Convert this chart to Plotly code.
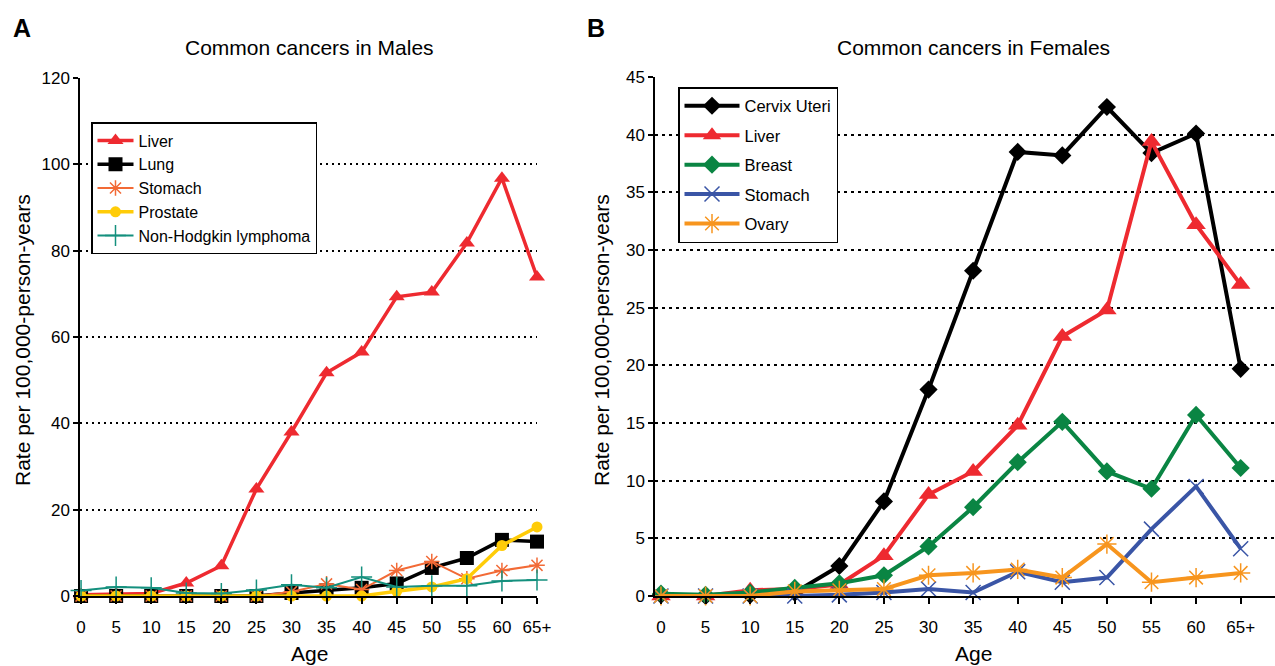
import plotly.graph_objects as go

ages = ["0", "5", "10", "15", "20", "25", "30", "35", "40", "45", "50", "55", "60", "65+"]

# Males (rate per 100,000 person-years)
male_liver = [0.3, 0.5, 0.6, 3.0, 7.0, 24.8, 38.0, 51.7, 56.5, 69.3, 70.4, 81.8, 96.8, 73.9]
male_lung = [0.0, 0.0, 0.0, 0.0, 0.0, 0.0, 0.7, 1.3, 1.9, 2.9, 6.5, 8.8, 13.0, 12.6]
male_stomach = [0.0, 0.0, 0.0, 0.0, 0.0, 0.0, 1.0, 2.8, 1.5, 5.9, 8.0, 4.0, 5.9, 7.1]
male_prostate = [0.0, 0.0, 0.0, 0.0, 0.0, 0.0, 0.0, 0.0, 0.0, 1.1, 2.1, 4.0, 11.7, 16.0]
male_nhl = [1.3, 2.1, 1.9, 0.7, 0.6, 1.4, 2.6, 1.9, 4.4, 2.1, 2.4, 2.4, 3.5, 3.7]

# Females
fem_cervix = [0.1, 0.0, 0.1, 0.3, 2.6, 8.2, 17.9, 28.2, 38.5, 38.2, 42.4, 38.4, 40.1, 19.7]
fem_liver = [0.0, 0.0, 0.5, 0.6, 1.0, 3.5, 8.8, 10.8, 14.8, 22.5, 24.8, 39.4, 32.2, 27.0]
fem_breast = [0.2, 0.1, 0.3, 0.7, 1.1, 1.8, 4.3, 7.7, 11.6, 15.1, 10.8, 9.3, 15.7, 11.1]
fem_stomach = [0.0, 0.0, 0.0, 0.0, 0.1, 0.3, 0.6, 0.3, 2.1, 1.2, 1.6, 5.8, 9.5, 4.1]
fem_ovary = [0.0, 0.0, 0.0, 0.4, 0.5, 0.6, 1.8, 2.0, 2.3, 1.6, 4.5, 1.2, 1.6, 2.0]

male_ticks = [0, 20, 40, 60, 80, 100, 120]
fem_ticks = [0, 5, 10, 15, 20, 25, 30, 35, 40, 45]

xi = list(range(len(ages)))
FONT = "Liberation Sans, Arial, sans-serif"

RED = "#EE2A30"
fig = go.Figure()


def add(y, name, color, lw, symbol, size, xa, ya, legend, group, mlw=1.5):
    fig.add_trace(go.Scatter(
        x=xi, y=y, name=name, mode="lines+markers",
        line=dict(color=color, width=lw),
        marker=dict(symbol=symbol, size=size, color=color,
                    line=dict(color=color, width=mlw)),
        xaxis=xa, yaxis=ya, legend=legend, legendgroup=group,
        cliponaxis=False))


add(male_liver, "Liver", RED, 3.5, "triangle-up", 14, "x", "y", "legend", "m1", 0)
add(male_lung, "Lung", "#000000", 3.5, "square", 14, "x", "y", "legend", "m1", 0)
add(male_stomach, "Stomach", "#F26A36", 2, "asterisk-open", 13, "x", "y", "legend", "m1")
add(male_prostate, "Prostate", "#FFCC08", 3.5, "circle", 11, "x", "y", "legend", "m1", 0)
add(male_nhl, "Non-Hodgkin lymphoma", "#14907E", 2, "cross-thin-open", 15, "x", "y", "legend", "m1")

add(fem_cervix, "Cervix Uteri", "#000000", 4, "diamond", 14, "x2", "y2", "legend2", "f1", 0)
add(fem_liver, "Liver", RED, 4, "triangle-up", 17, "x2", "y2", "legend2", "f2", 0)
add(fem_breast, "Breast", "#0A8543", 4, "diamond", 14, "x2", "y2", "legend2", "f3", 0)
add(fem_stomach, "Stomach", "#3A55A6", 4, "x-thin-open", 15, "x2", "y2", "legend2", "f4")
add(fem_ovary, "Ovary", "#F7951E", 4, "asterisk-open", 16, "x2", "y2", "legend2", "f5")

axis_common = dict(
    showline=True, linecolor="black", linewidth=1.5,
    ticks="outside", tickcolor="black", tickwidth=1.5,
    tickfont=dict(family=FONT, size=17, color="black"),
    zeroline=False, mirror=False, automargin=False,
)

fig.update_layout(
    width=1275, height=666,
    margin=dict(l=0, r=0, t=0, b=0),
    paper_bgcolor="white", plot_bgcolor="white",
    font=dict(family=FONT, color="black"),
    xaxis=dict(**axis_common, domain=[80 / 1275, 537 / 1275], range=[-0.03, 13],
               tickvals=xi, ticktext=ages, ticklen=6, ticklabelstandoff=9,
               showgrid=False, anchor="y"),
    yaxis=dict(**axis_common, domain=[1 - 596 / 666, 1 - 78 / 666], range=[0, 120],
               tickvals=male_ticks, ticklen=5, anchor="x",
               showgrid=True, gridcolor="black", gridwidth=1.5, griddash="2px,4px"),
    xaxis2=dict(**axis_common, domain=[655 / 1275, 1.0], range=[-0.134, 13.77],
                tickvals=xi, ticktext=ages, ticklen=6, ticklabelstandoff=9,
                showgrid=False, anchor="y2"),
    yaxis2=dict(**axis_common, domain=[1 - 596 / 666, 1 - 77 / 666], range=[0, 45],
                tickvals=fem_ticks, ticklen=5, anchor="x2",
                showgrid=True, gridcolor="black", gridwidth=1.5, griddash="3px,4px"),
    legend=dict(x=91 / 1275, y=1 - 122 / 666, xanchor="left", yanchor="top",
                bgcolor="white", bordercolor="black", borderwidth=1.5,
                font=dict(family=FONT, size=16, color="black"),
                tracegroupgap=0, itemwidth=36),
    legend2=dict(x=678 / 1275, y=1 - 87 / 666, xanchor="left", yanchor="top",
                 bgcolor="white", bordercolor="black", borderwidth=1.5,
                 font=dict(family=FONT, size=16.5, color="black"),
                 tracegroupgap=5, itemwidth=55),
    showlegend=True,
)

annots = [
    dict(text="Common cancers in Males", x=309, y=47, size=21, angle=0),
    dict(text="Common cancers in Females", x=973, y=47, size=21, angle=0),
    dict(text="<b>A</b>", x=22, y=28, size=25, angle=0),
    dict(text="<b>B</b>", x=596, y=28, size=25, angle=0),
    dict(text="Age", x=309, y=653, size=21, angle=0),
    dict(text="Age", x=973, y=653, size=21, angle=0),
    dict(text="Rate per 100,000-person-years", x=22, y=340, size=21, angle=-90),
    dict(text="Rate per 100,000-person-years", x=601, y=340, size=21, angle=-90),
]
for a in annots:
    fig.add_annotation(text=a["text"], x=a["x"] / 1275, y=1 - a["y"] / 666,
                       xref="paper", yref="paper", textangle=a["angle"],
                       xanchor="center", yanchor="middle", showarrow=False,
                       font=dict(family=FONT, size=a["size"], color="black"))

fig.write_html("out.html", config={"displayModeBar": False},
               post_script="document.body.style.margin='0px';document.body.style.overflow='hidden';")
